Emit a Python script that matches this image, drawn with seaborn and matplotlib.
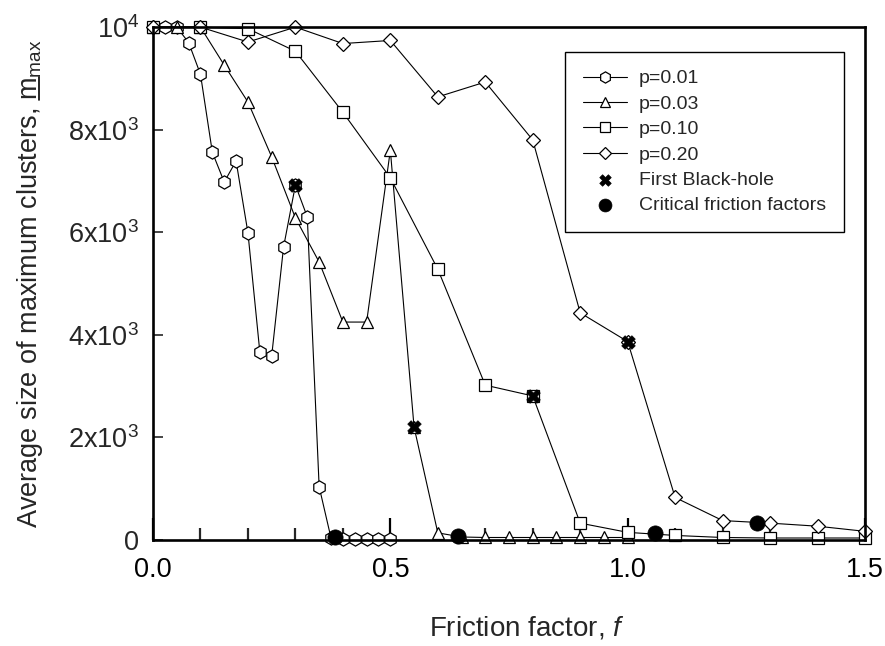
import matplotlib
matplotlib.use("Agg")
import matplotlib.pyplot as plt
import seaborn as sns
from matplotlib.lines import Line2D
from matplotlib.ticker import FixedLocator, FixedFormatter, MultipleLocator

# friction factor / average max cluster size
f_p01 = [0.0, 0.025, 0.05, 0.075, 0.1, 0.125, 0.15, 0.175, 0.2, 0.225, 0.25,
         0.275, 0.3, 0.325, 0.35, 0.375, 0.4, 0.425, 0.45, 0.475, 0.5]
m_p01 = [10000, 10000, 10000, 9700, 9080, 7560, 6980, 7390, 5990, 3670, 3590,
         5710, 6920, 6300, 1040, 40, 20, 20, 20, 20, 20]

f_p03 = [0.0, 0.05, 0.1, 0.15, 0.2, 0.25, 0.3, 0.35, 0.4, 0.45, 0.5, 0.55,
         0.6, 0.65, 0.7, 0.75, 0.8, 0.85, 0.9, 0.95, 1.0]
m_p03 = [10000, 10000, 10000, 9260, 8540, 7470, 6280, 5420, 4250, 4250, 7600,
         2200, 140, 60, 50, 50, 50, 50, 50, 50, 50]

f_p10 = [0.0, 0.1, 0.2, 0.3, 0.4, 0.5, 0.6, 0.7, 0.8, 0.9, 1.0, 1.1, 1.2, 1.3, 1.4, 1.5]
m_p10 = [10000, 10000, 9970, 9530, 8340, 7060, 5280, 3020, 2810, 330, 150, 90,
         50, 40, 40, 40]

f_p20 = [0.0, 0.1, 0.2, 0.3, 0.4, 0.5, 0.6, 0.7, 0.8, 0.9, 1.0, 1.1, 1.2, 1.3, 1.4, 1.5]
m_p20 = [10000, 10000, 9710, 10000, 9680, 9740, 8640, 8930, 7800, 4430, 3870,
         830, 380, 330, 270, 170]

blackhole_f = [0.3, 0.55, 0.8, 1.0]
blackhole_m = [6920, 2200, 2810, 3870]

critical_f = [0.383, 0.642, 1.057, 1.272]
critical_m = [60, 80, 140, 340]

y_ticks = [0, 2000, 4000, 6000, 8000, 10000]
y_labels = ["0", "2x10$^3$", "4x10$^3$", "6x10$^3$", "8x10$^3$", "10$^4$"]
x_ticks = [0.0, 0.5, 1.0, 1.5]
x_labels = ["0.0", "0.5", "1.0", "1.5"]

sns.set_style("white")
plt.rcParams["font.family"] = ["Liberation Sans", "DejaVu Sans"]
plt.rcParams["mathtext.fontset"] = "custom"
plt.rcParams["mathtext.rm"] = "Liberation Sans"
plt.rcParams["mathtext.it"] = "Liberation Sans:italic"

fig = plt.figure(figsize=(8.85, 6.46), dpi=100)
ax = fig.add_axes([0.1729, 0.164, 0.8045, 0.794])

series = [
    (f_p01, m_p01, "h", 9.5, "p=0.01"),
    (f_p03, m_p03, "^", 9, "p=0.03"),
    (f_p10, m_p10, "s", 8.5, "p=0.10"),
    (f_p20, m_p20, "D", 7, "p=0.20"),
]
for f, m, mk, ms, lab in series:
    sns.lineplot(x=f, y=m, ax=ax, color="k", lw=0.8, marker=mk, ms=ms,
                 mfc="white", mec="k", mew=0.9, label=lab, clip_on=False,
                 sort=False, estimator=None)

# first black-hole and critical friction factor markers
sns.scatterplot(x=blackhole_f, y=blackhole_m, ax=ax, marker="X", s=95,
                color="k", edgecolor="k", linewidth=0.5, zorder=5,
                label="First Black-hole", clip_on=False)
sns.scatterplot(x=critical_f, y=critical_m, ax=ax, marker="o", s=120,
                color="k", edgecolor="k", linewidth=0.5, zorder=5,
                label="Critical friction factors", clip_on=False)

ax.set_xlim(0, 1.5)
ax.set_ylim(0, 10000)

ax.xaxis.set_major_locator(FixedLocator(x_ticks))
ax.xaxis.set_major_formatter(FixedFormatter(x_labels))
ax.xaxis.set_minor_locator(MultipleLocator(0.1))
ax.yaxis.set_major_locator(FixedLocator(y_ticks))
ax.yaxis.set_major_formatter(FixedFormatter(y_labels))

ax.tick_params(axis="x", which="major", direction="in", length=16, width=1.6,
               labelsize=19.5, pad=12, bottom=True, colors="k")
ax.tick_params(axis="x", which="minor", direction="in", length=9, width=1.6,
               bottom=True)
ax.tick_params(axis="y", which="major", direction="in", length=7, width=1.2,
               labelsize=19.5, pad=10, left=True)

for sp in ax.spines.values():
    sp.set_linewidth(1.9)
    sp.set_color("k")

YLAB_FS = 19.5
ylab_prefix = "Average size of maximum clusters, "
ax.set_xlabel("Friction factor, $\\mathit{f}$", fontsize=20, labelpad=23)
ax.xaxis.label.set_x(0.5245)
ax.set_ylabel(ylab_prefix + "$\\mathrm{m}_{\\mathrm{max}}$",
              fontsize=YLAB_FS, labelpad=17)

leg = ax.legend(loc="upper left", bbox_to_anchor=(0.579, 0.951), borderaxespad=0,
                frameon=True, fancybox=False, fontsize=14, handlelength=2.3,
                handletextpad=0.6, labelspacing=0.4, borderpad=0.9,
                markerscale=0.85)
leg.get_frame().set_edgecolor("k")
leg.get_frame().set_linewidth(1.0)
leg.get_frame().set_alpha(1)

# mathtext has no \underline, so draw the bar under the "m" by hand
fig.canvas.draw()
renderer = fig.canvas.get_renderer()


def text_width(s):
    t = fig.text(0, 0, s, fontsize=YLAB_FS)
    w = t.get_window_extent(renderer).width
    t.remove()
    return w


ylab = ax.yaxis.label
bb = ylab.get_window_extent(renderer)
w_m = text_width("$\\mathrm{m}$")
start = text_width(ylab_prefix + "$\\mathrm{m}$") - w_m
_, _, descent = renderer.get_text_width_height_descent(
    ylab.get_text(), ylab.get_fontproperties(), ismath=True)
x_line = bb.x1 - descent + 2.5
inv = fig.transFigure.inverted()
p0 = inv.transform((x_line, bb.y0 + start))
p1 = inv.transform((x_line, bb.y0 + start + w_m))
fig.add_artist(Line2D([p0[0], p1[0]], [p0[1], p1[1]], color="k", lw=1.2))

fig.savefig("out.png", dpi=100)
